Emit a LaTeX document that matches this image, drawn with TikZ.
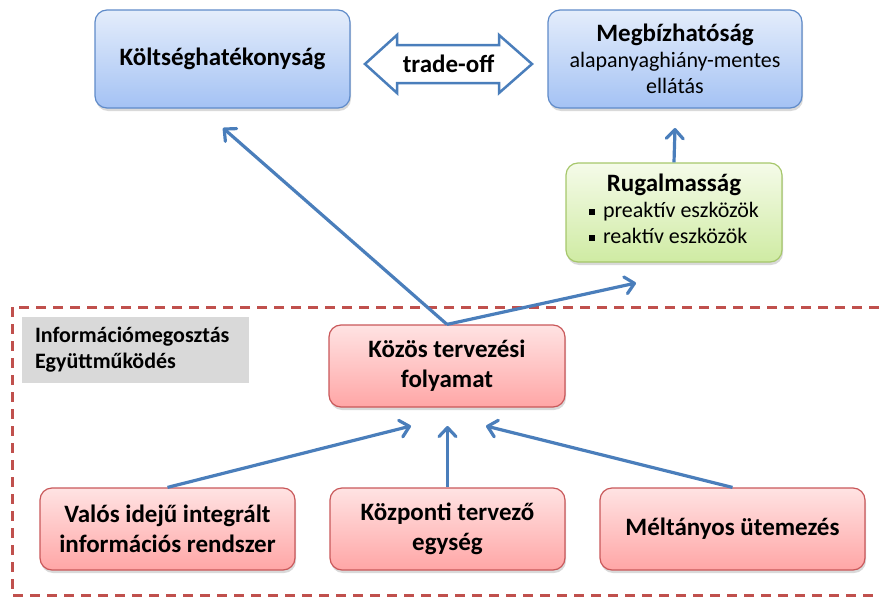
\documentclass[tikz,border=0pt]{standalone}
\usepackage{fontspec}
\setmainfont{Carlito}
\usetikzlibrary{arrows.meta,shadows}
\definecolor{arrowblue}{HTML}{4A7EBB}
\definecolor{bluetop}{HTML}{E4EDFB}
\definecolor{bluebot}{HTML}{A4C2F4}
\definecolor{blueline}{HTML}{5F8BC9}
\definecolor{greentop}{HTML}{F5FBE9}
\definecolor{greenbot}{HTML}{CFEBA3}
\definecolor{greenline}{HTML}{A6C76B}
\definecolor{redtop}{HTML}{FFE3E3}
\definecolor{redbot}{HTML}{FFA6A6}
\definecolor{redline}{HTML}{C9585A}
\definecolor{infogray}{HTML}{D9D9D9}
\definecolor{dashred}{HTML}{C0504D}
\newcommand\mybul{\rule[3pt]{6pt}{6pt}\hspace{8pt}}
\tikzset{
  box/.style={rounded corners=12pt, line width=1.2pt, inner sep=0pt, align=center,
    font=\fontsize{25}{30}\selectfont\bfseries,
    drop shadow={opacity=0.3, shadow xshift=1pt, shadow yshift=-3pt}},
  bluebox/.style={box, draw=blueline, top color=bluetop, bottom color=bluebot},
  greenbox/.style={box, draw=greenline, top color=greentop, bottom color=greenbot},
  redbox/.style={box, draw=redline, top color=redtop, bottom color=redbot},
  conn/.style={draw=arrowblue, line width=3.2pt, -{Straight Barb[length=9pt,width=17pt,round]}},
  dashframe/.style={draw=dashred, line width=3pt, dash pattern=on 10pt off 7pt},
  tradeshape/.style={draw=arrowblue, line width=2.5pt, fill=white, line join=miter},
}
\begin{document}
\begin{tikzpicture}[x=1pt,y=-1pt]
\useasboundingbox (0,0) rectangle (879,597);

% dashed frame
\draw[dashframe] (879,307) -- (12,307) -- (12,595) -- (879,595);

% top boxes
\node[bluebox, minimum width=255, minimum height=98] (kolt) at (222.5,59) {Költséghatékonyság};
\node[bluebox, minimum width=254, minimum height=98, font=\fontsize{22}{26}\selectfont] (megb) at (675,59)
  {{\fontsize{25}{30}\selectfont\bfseries Megbízhatóság}\\alapanyaghiány-mentes\\ellátás};

% trade-off double arrow
\draw[tradeshape] (365,64) -- (397,35) -- (397,45) -- (499,45) -- (499,35) -- (532,64)
  -- (499,93) -- (499,83) -- (397,83) -- (397,93) -- cycle;
\node[font=\fontsize{25}{30}\selectfont\bfseries] (trade) at (448.5,64) {trade-off};

% flexibility
\node[greenbox, minimum width=216, minimum height=99, font=\fontsize{22}{26}\selectfont] (rug) at (674,212.5)
  {\begin{tabular}{@{}l@{}}\multicolumn{1}{@{}c@{}}{\fontsize{25}{30}\selectfont\bfseries Rugalmasság}\\
   \mybul preaktív eszközök\\ \mybul reaktív eszközök\end{tabular}};

% info gray box
\node[fill=infogray, inner xsep=13pt, inner ysep=0pt, text width=201pt, minimum height=66, align=left,
  font=\fontsize{22}{26}\selectfont\bfseries] (info) at (135.5,350) {Információmegosztás\\Együttműködés};

% common planning
\node[redbox, minimum width=236, minimum height=82] (kozos) at (447,366) {Közös tervezési\\folyamat};

% bottom boxes
\node[redbox, minimum width=255, minimum height=82] (valos) at (167.5,529) {Valós idejű integrált\\információs rendszer};
\node[redbox, minimum width=235, minimum height=82] (kozp) at (447.5,529) {Központi tervező\\egység};
\node[redbox, minimum width=265, minimum height=82] (melt) at (732.5,529) {Méltányos ütemezés};

% connectors
\coordinate (ktip) at (223,128);
\coordinate (rtip) at (636,283);
\coordinate (mtip) at (675,128);
\coordinate (b1) at (411,426);
\coordinate (b2) at (447.5,426);
\coordinate (b3) at (486,426);
\draw[conn] (kozos.north) -- (ktip);
\draw[conn] (kozos.north) -- (rtip);
\draw[conn] (rug.north) -- (mtip);
\draw[conn] (valos.north) -- (b1);
\draw[conn] (kozp.north) -- (b2);
\draw[conn] (melt.north) -- (b3);
\end{tikzpicture}
\end{document}
